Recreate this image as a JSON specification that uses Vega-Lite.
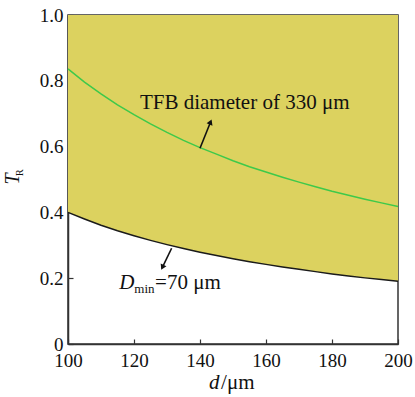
{
  "$schema": "https://vega.github.io/schema/vega-lite/v6.json",
  "autosize": {"type": "none"},
  "width": 330,
  "height": 329,
  "padding": {"left": 68, "top": 15, "right": 17, "bottom": 53},
  "background": "white",
  "config": {
    "view": {"stroke": "#333333", "strokeWidth": 1.5},
    "font": "Liberation Serif",
    "axis": {
      "domainColor": "#333333", "domainWidth": 1.5,
      "tickColor": "#333333", "tickWidth": 1.2, "tickSize": -5,
      "labelFont": "Liberation Serif", "labelFontSize": 19, "labelColor": "#111111",
      "labelFlush": false, "labelOverlap": false,
      "grid": false, "zindex": 1
    }
  },
  "datasets": {
    "curves": [
      {"d": 100, "lower": 0.400, "tfb": 0.836},
      {"d": 105, "lower": 0.380, "tfb": 0.796},
      {"d": 110, "lower": 0.361, "tfb": 0.760},
      {"d": 115, "lower": 0.344, "tfb": 0.727},
      {"d": 120, "lower": 0.329, "tfb": 0.697},
      {"d": 125, "lower": 0.315, "tfb": 0.669},
      {"d": 130, "lower": 0.302, "tfb": 0.643},
      {"d": 135, "lower": 0.290, "tfb": 0.619},
      {"d": 140, "lower": 0.279, "tfb": 0.597},
      {"d": 145, "lower": 0.269, "tfb": 0.577},
      {"d": 150, "lower": 0.259, "tfb": 0.557},
      {"d": 155, "lower": 0.250, "tfb": 0.539},
      {"d": 160, "lower": 0.242, "tfb": 0.523},
      {"d": 165, "lower": 0.234, "tfb": 0.507},
      {"d": 170, "lower": 0.227, "tfb": 0.492},
      {"d": 175, "lower": 0.220, "tfb": 0.478},
      {"d": 180, "lower": 0.213, "tfb": 0.464},
      {"d": 185, "lower": 0.207, "tfb": 0.452},
      {"d": 190, "lower": 0.201, "tfb": 0.440},
      {"d": 195, "lower": 0.196, "tfb": 0.429},
      {"d": 200, "lower": 0.191, "tfb": 0.418}
    ]
  },
  "layer": [
    {
      "data": {"name": "curves"},
      "mark": {"type": "area", "color": "#dcd25f", "clip": true},
      "encoding": {
        "x": {"field": "d", "type": "quantitative",
              "scale": {"domain": [100, 200], "nice": false},
              "axis": {"values": [100, 120, 140, 160, 180, 200], "title": null, "labelPadding": 12}},
        "y": {"field": "lower", "type": "quantitative",
              "scale": {"domain": [0, 1], "nice": false},
              "axis": {"values": [0, 0.2, 0.4, 0.6, 0.8, 1.0], "title": null, "labelPadding": 10,
                       "labelExpr": "datum.value === 0 ? '0' : format(datum.value, '.1f')"}},
        "y2": {"datum": 1}
      }
    },
    {
      "data": {"name": "curves"},
      "mark": {"type": "line", "color": "#1a1a1a", "strokeWidth": 1.5},
      "encoding": {
        "x": {"field": "d", "type": "quantitative"},
        "y": {"field": "lower", "type": "quantitative"}
      }
    },
    {
      "data": {"name": "curves"},
      "mark": {"type": "line", "color": "#3ec94a", "strokeWidth": 1.5},
      "encoding": {
        "x": {"field": "d", "type": "quantitative"},
        "y": {"field": "tfb", "type": "quantitative"}
      }
    },
    {
      "data": {"values": [{"x": 140, "y": 0.595, "x2": 143.2, "y2": 0.675}, {"x": 131.4, "y": 0.291, "x2": 128.6, "y2": 0.233}]},
      "mark": {"type": "rule", "color": "#111111", "strokeWidth": 1.6},
      "encoding": {
        "x": {"field": "x", "type": "quantitative"},
        "y": {"field": "y", "type": "quantitative"},
        "x2": {"field": "x2"},
        "y2": {"field": "y2"}
      }
    },
    {
      "data": {"values": [{"x": 143.2, "y": 0.675}]},
      "mark": {"type": "point", "shape": "triangle-up", "filled": true, "color": "#111111", "size": 40, "angle": 22, "opacity": 1},
      "encoding": {
        "x": {"field": "x", "type": "quantitative"},
        "y": {"field": "y", "type": "quantitative"}
      }
    },
    {
      "data": {"values": [{"x": 128.6, "y": 0.233}]},
      "mark": {"type": "point", "shape": "triangle-up", "filled": true, "color": "#111111", "size": 40, "angle": 206, "opacity": 1},
      "encoding": {
        "x": {"field": "x", "type": "quantitative"},
        "y": {"field": "y", "type": "quantitative"}
      }
    },
    {
      "data": {"values": [{"x": 121.8, "y": 0.713, "t": "TFB diameter of 330 μm"}, {"x": 126.4, "y": 0.167, "t": "=70 μm"}, {"x": 146.4, "y": -0.137, "t": "/μm"}]},
      "mark": {"type": "text", "align": "left", "baseline": "alphabetic", "fontSize": 21, "font": "Liberation Serif", "color": "#111111"},
      "encoding": {
        "x": {"field": "x", "type": "quantitative"},
        "y": {"field": "y", "type": "quantitative"},
        "text": {"field": "t"}
      }
    },
    {
      "data": {"values": [{"x": 115.5, "y": 0.167, "t": "D"}, {"x": 142.7, "y": -0.137, "t": "d"}]},
      "mark": {"type": "text", "align": "left", "baseline": "alphabetic", "fontSize": 21, "fontStyle": "italic", "font": "Liberation Serif", "color": "#111111"},
      "encoding": {
        "x": {"field": "x", "type": "quantitative"},
        "y": {"field": "y", "type": "quantitative"},
        "text": {"field": "t"}
      }
    },
    {
      "data": {"values": [{"x": 120.1, "y": 0.156, "t": "min"}]},
      "mark": {"type": "text", "align": "left", "baseline": "alphabetic", "fontSize": 13, "font": "Liberation Serif", "color": "#111111"},
      "encoding": {
        "x": {"field": "x", "type": "quantitative"},
        "y": {"field": "y", "type": "quantitative"},
        "text": {"field": "t"}
      }
    },
    {
      "data": {"values": [{"x": 83.3, "y": 0.5015, "t": "T"}]},
      "mark": {"type": "text", "align": "center", "baseline": "middle", "angle": 270, "fontSize": 20, "fontStyle": "italic", "font": "Liberation Serif", "color": "#111111"},
      "encoding": {
        "x": {"field": "x", "type": "quantitative"},
        "y": {"field": "y", "type": "quantitative"},
        "text": {"field": "t"}
      }
    },
    {
      "data": {"values": [{"x": 85.6, "y": 0.521, "t": "R"}]},
      "mark": {"type": "text", "align": "center", "baseline": "middle", "angle": 270, "fontSize": 10, "font": "Liberation Serif", "color": "#111111"},
      "encoding": {
        "x": {"field": "x", "type": "quantitative"},
        "y": {"field": "y", "type": "quantitative"},
        "text": {"field": "t"}
      }
    }
  ]
}
